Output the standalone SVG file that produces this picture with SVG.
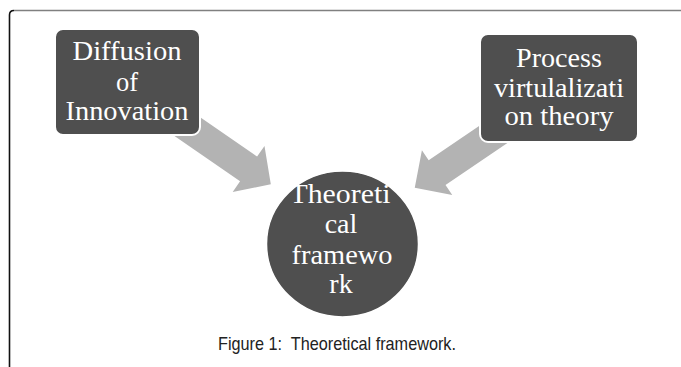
<svg xmlns="http://www.w3.org/2000/svg" width="681" height="367" viewBox="0 0 681 367">
<style>
.box{fill:#4f4f4f;stroke:#ffffff;stroke-width:2}
.arrow{fill:#b3b3b3}
.lbl{font-family:"Liberation Serif","Times New Roman",Times,serif;font-size:26.5px;fill:#ffffff;text-anchor:middle}
.big{font-size:28px}
.cap{font-family:"Liberation Sans",Arial,sans-serif;font-size:19px;fill:#222222}
</style>
<rect width="681" height="367" fill="#ffffff"/>
<g id="frame" fill="none">
<path d="M9.5,367 V15 Q9.5,10.5 14,10.5" stroke="#111111" stroke-width="1.6"/>
<path d="M14,10.5 H681" stroke="#808080" stroke-width="1.6"/>
</g>
<g id="connectors">
<polygon class="arrow" transform="translate(188.5,127.5) rotate(34.6)" points="-30,-15 73,-15 73,-28 100,0 73,28 73,15 -30,15"/>
<polygon class="arrow" transform="translate(492.5,135) rotate(145.8)" points="-30,-15 67,-15 67,-27 94,0 67,27 67,15 -30,15"/>
</g>
<g id="diffusion">
<rect class="box" x="55" y="29" width="145" height="106" rx="8"/>
<text class="lbl" x="127" y="60" textLength="109" lengthAdjust="spacingAndGlyphs">Diffusion</text>
<text class="lbl" x="127" y="90.5">of</text>
<text class="lbl" x="127" y="120" textLength="123" lengthAdjust="spacingAndGlyphs">Innovation</text>
</g>
<g id="process">
<rect class="box" x="480" y="34" width="158" height="108" rx="8"/>
<text class="lbl" x="559" y="67" textLength="86" lengthAdjust="spacingAndGlyphs">Process</text>
<text class="lbl" x="559" y="97" textLength="130" lengthAdjust="spacingAndGlyphs">virtulalizati</text>
<text class="lbl" x="559" y="125" textLength="109" lengthAdjust="spacingAndGlyphs">on theory</text>
</g>
<g id="theoretical">
<ellipse cx="342.5" cy="244" rx="76" ry="73" fill="#4f4f4f" stroke="#ffffff" stroke-width="1.5"/>
<text class="lbl big" x="340" y="203" textLength="101" lengthAdjust="spacingAndGlyphs">Theoreti</text>
<text class="lbl big" x="341" y="233">cal</text>
<text class="lbl big" x="342" y="264" textLength="101" lengthAdjust="spacingAndGlyphs">framewo</text>
<text class="lbl big" x="341" y="293">rk</text>
</g>
<g id="caption">
<text class="cap" x="218" y="350" xml:space="preserve" textLength="238" lengthAdjust="spacingAndGlyphs">Figure 1:  Theoretical framework.</text>
</g>
</svg>
